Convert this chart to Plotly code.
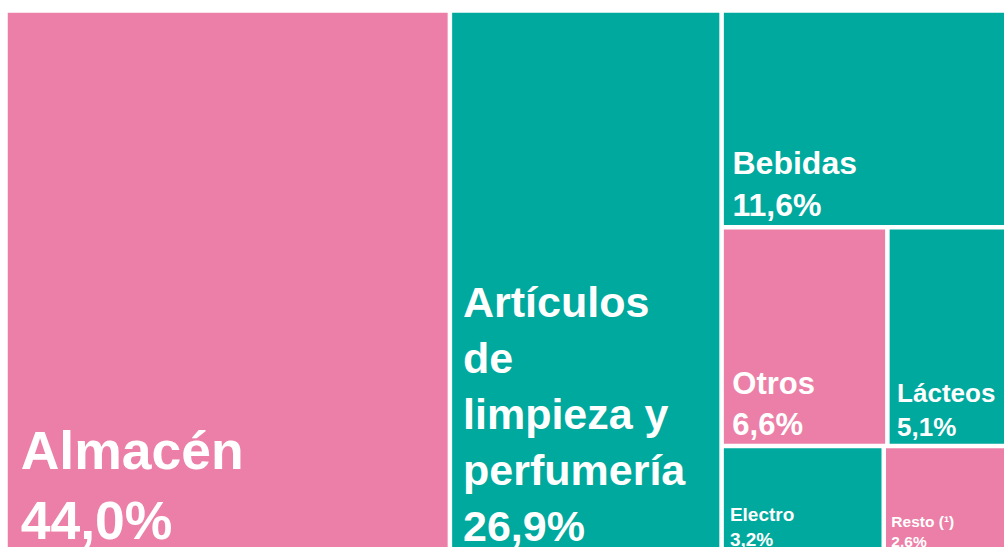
import plotly.graph_objects as go

# Data
categories = ["Almacén", "Artículos de limpieza y perfumería", "Bebidas", "Otros",
              "Lácteos", "Electro", "Resto (¹)"]
display_lines = [["Almacén"], ["Artículos", "de", "limpieza y", "perfumería"], ["Bebidas"],
                 ["Otros"], ["Lácteos"], ["Electro"], ["Resto (¹)"]]
shares = [44.0, 26.9, 11.6, 6.6, 5.1, 3.2, 2.6]

# Styles
PINK = "#EC7FA7"
TEAL = "#00A99D"
leaf_colors = [PINK, TEAL, TEAL, PINK, TEAL, TEAL, PINK]
leaf_font_sizes = [53.5, 43, 32, 31, 26, 19, 15.5]
INDENT = "\u2009"  # thin space, gives the inner left padding of the labels

ROOT = "Total"
labels = [ROOT] + categories
parents = [""] + [ROOT] * len(categories)
values = [sum(shares)] + shares
pct = [f"{v:.1f}%".replace(".", ",") for v in shares]
leaf_text = ["<br>".join(INDENT + s for s in lines + [p]) for lines, p in zip(display_lines, pct)]
texts = [""] + leaf_text
colors = ["white"] + leaf_colors
sizes = [10] + leaf_font_sizes

fig = go.Figure(go.Treemap(
    labels=labels,
    parents=parents,
    values=values,
    branchvalues="total",
    text=texts,
    texttemplate="<b>%{text}</b>",
    textposition="bottom left",
    textfont=dict(family="Liberation Sans", color="white", size=sizes),
    marker=dict(colors=colors, line=dict(color="white", width=1.5),
                pad=dict(t=0, l=0, r=0, b=0)),
    pathbar=dict(visible=False),
    sort=True,
))

fig.update_layout(
    width=1014,
    height=553,
    margin=dict(l=7, r=0, t=12, b=0),
    paper_bgcolor="white",
    showlegend=False,
)

fig.write_html(
    "out.html",
    config={"displayModeBar": False},
    post_script=(
        "document.body.style.margin='0';"
        "document.body.style.overflow='hidden';"
        "document.documentElement.style.overflow='hidden';"
    ),
)
